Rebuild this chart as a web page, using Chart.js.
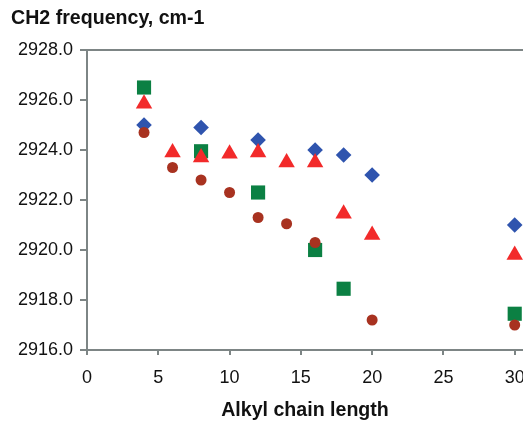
<!DOCTYPE html>
<html>
<head>
<meta charset="utf-8">
<script src="https://cdn.jsdelivr.net/npm/chart.js@4.4.1/dist/chart.umd.min.js"></script>
<style>
  html, body { margin: 0; padding: 0; background: #fff; overflow: hidden; }
  #clip { width: 523px; height: 422px; overflow: hidden; position: relative; }
  #box { width: 608px; height: 422px; position: absolute; left: 0; top: 0; }
</style>
</head>
<body>
<div id="clip"><div id="box"><canvas id="grafico"></canvas></div></div>
<script>
// valores
const xAzul = [4, 8, 12, 16, 18, 20, 30];
const yAzul = [2925.0, 2924.9, 2924.4, 2924.0, 2923.8, 2923.0, 2921.0];

const xVermelho = [4, 6, 8, 10, 12, 14, 16, 18, 20, 30];
const yVermelho = [2925.85, 2923.9, 2923.7, 2923.85, 2923.9, 2923.5, 2923.5, 2921.45, 2920.6, 2919.8];

const xVerde = [4, 8, 12, 16, 18, 30];
const yVerde = [2926.5, 2923.95, 2922.3, 2920.0, 2918.45, 2917.45];

const xMarrom = [4, 6, 8, 10, 12, 14, 16, 20, 30];
const yMarrom = [2924.7, 2923.3, 2922.8, 2922.3, 2921.3, 2921.05, 2920.3, 2917.2, 2917.0];

const tituloY = 'CH2 frequency, cm-1';
const tituloX = 'Alkyl chain length';

const fonte = "'Liberation Sans', Arial, sans-serif";
const corEixo = '#7d8585';

function pontos(xs, ys) {
    return xs.map(function (x, i) { return { x: x, y: ys[i] }; });
}

// desenha a linha de cima da moldura e os titulos
const textos = {
    id: 'textos',
    afterDraw(chart) {
        const c = chart.ctx;
        const a = chart.chartArea;
        c.save();
        c.strokeStyle = corEixo;
        c.lineWidth = 2;
        c.beginPath();
        c.moveTo(a.left, a.top);
        c.lineTo(a.right, a.top);
        c.lineTo(a.right, a.bottom);
        c.stroke();
        c.fillStyle = '#111';
        c.font = 'bold 19.6px ' + fonte;
        c.textBaseline = 'alphabetic';
        c.textAlign = 'left';
        c.fillText(tituloY, 11, 24);
        c.textAlign = 'center';
        c.fillText(tituloX, 305, 416);
        c.restore();
    }
};

const ctx = document.getElementById('grafico');
const grafico = new Chart(ctx, {
    type: 'scatter',
    data: {
        datasets: [{
            label: 'serie 4',
            data: pontos(xMarrom, yMarrom),
            pointStyle: 'circle',
            pointRadius: 5.5,
            backgroundColor: '#a83220',
            borderColor: '#a83220',
            borderWidth: 0
        }, {
            label: 'serie 2',
            data: pontos(xVermelho, yVermelho),
            pointStyle: 'triangle',
            pointRadius: 9.5,
            backgroundColor: '#f22a2a',
            borderColor: '#f22a2a',
            borderWidth: 0
        }, {
            label: 'serie 3',
            data: pontos(xVerde, yVerde),
            pointStyle: 'rect',
            pointRadius: 10,
            backgroundColor: '#0b8043',
            borderColor: '#0b8043',
            borderWidth: 0
        }, {
            label: 'serie 1',
            data: pontos(xAzul, yAzul),
            pointStyle: 'rectRot',
            pointRadius: 7.8,
            backgroundColor: '#2f54ae',
            borderColor: '#2f54ae',
            borderWidth: 0
        }]
    },
    options: {
        responsive: true,
        maintainAspectRatio: false,
        animation: false,
        layout: { padding: { top: 50, left: 0, right: 14, bottom: 0 } },
        plugins: {
            legend: { display: false },
            tooltip: { enabled: false }
        },
        scales: {
            x: {
                type: 'linear',
                min: 0,
                max: 35,
                afterFit: function (s) { s.height = 72; },
                ticks: {
                    stepSize: 5,
                    padding: 12,
                    color: '#111',
                    font: { family: fonte, size: 18 }
                },
                grid: { drawOnChartArea: false, drawTicks: true, tickLength: 5, color: corEixo, lineWidth: 2 },
                border: { display: true, color: corEixo, width: 2 }
            },
            y: {
                min: 2916,
                max: 2928,
                afterFit: function (s) { s.width = 87; },
                ticks: {
                    stepSize: 2,
                    padding: 7,
                    color: '#111',
                    font: { family: fonte, size: 18 },
                    callback: function (v) { return v.toFixed(1); }
                },
                grid: { drawOnChartArea: false, drawTicks: true, tickLength: 7, color: corEixo, lineWidth: 2 },
                border: { display: true, color: corEixo, width: 2 }
            }
        }
    },
    plugins: [textos]
});
</script>
</body>
</html>
